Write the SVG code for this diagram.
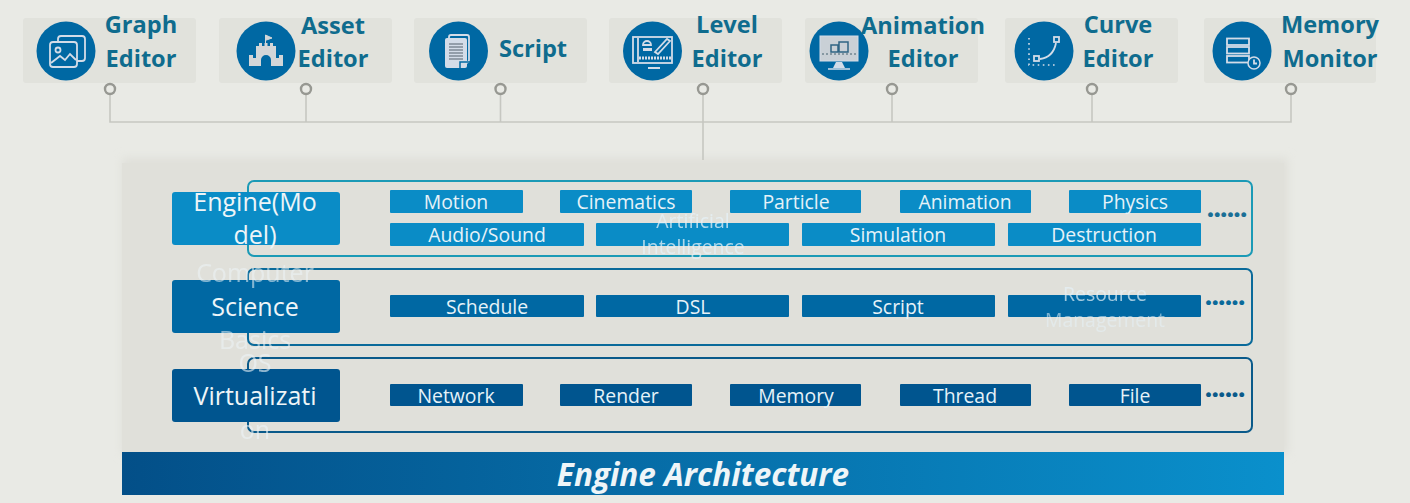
<svg xmlns="http://www.w3.org/2000/svg" width="1410" height="503" viewBox="0 0 1410 503">
<style>
text{font-family:"Open Sans","Liberation Sans",sans-serif}
.card{fill:#e1e2dc}
.ci{fill:#0068a3}
.t{font-size:23.6px;font-weight:700;fill:#0f6c8e;text-anchor:middle}
.port{fill:#e9eae5;stroke:#979892;stroke-width:2.4}
.wire{fill:none;stroke:#c6c7c1;stroke-width:1.6}
.ic{fill:none;stroke:#d3dce8;stroke-width:1.8}
.if{fill:#d3d6d8}
.p,.l{text-anchor:middle}
.p{font-size:19.4px;fill:#e6f2f8}
.l{font-size:25px;fill:#eef5f8}
.frame{fill:none;stroke-width:2}
.d{font-size:24px;font-weight:800;letter-spacing:-.3px}
.a{fill:#0a8cc6}.b{fill:#0068a3}.c{fill:#00558f}
</style>
<defs>
<linearGradient id="bar" x1="0" x2="1" y1="0" y2="0"><stop offset="0" stop-color="#034f88"/><stop offset="1" stop-color="#0a90cc"/></linearGradient>
<filter id="soft" x="-5%" y="-10%" width="110%" height="120%"><feGaussianBlur stdDeviation="5"/></filter>
</defs>
<rect width="1410" height="503" fill="#e9eae5"/>
<g id="panel"><rect x="122" y="158" width="1166" height="296" fill="#dfdfd9" filter="url(#soft)"/><rect x="122" y="163" width="1162" height="289" fill="#e0e0da"/><rect x="122" y="452" width="1162" height="43" fill="url(#bar)"/>
<text x="703" y="486" text-anchor="middle" font-size="31.500" font-weight="700" font-style="italic" fill="#eef5f8">Engine Architecture</text></g>
<g id="connectors">
<path class="wire" d="M110 94V122H1291V94M306 94V122M500.500 94V122M703 94V160M892 94V122M1092 94V122"/>
</g>
<g id="graph-editor"><rect class="card" x="23" y="18" width="173" height="65" rx="3"/><circle class="ci" cx="66" cy="51" r="29.500"/>
<rect class="ic" x="58" y="36" width="27" height="25" rx="3"/><rect x="50" y="42" width="27" height="25" rx="3" fill="#0068a3" stroke="#d3dce8" stroke-width="1.800"/><circle class="ic" cx="58" cy="50" r="2.500"/><path class="ic" d="M51 63L60 56 65 60 70 54 76 60"/>
<text class="t" x="141" y="33">Graph</text><text class="t" x="141" y="67">Editor</text><circle class="port" cx="110" cy="89" r="5"/></g>
<g id="asset-editor"><rect class="card" x="219" y="18" width="173" height="65" rx="3"/><circle class="ci" cx="266" cy="51" r="29.500"/>
<path class="if" d="M249 66V55H253V58H256V46H259V43H262V46H264.500V43H267.500V46H270V43H273V46H276V58H279V55H283V66H271V60A5 5 0 0 0 261 60V66Z"/><path d="M265.500 43V35L272 38 266.500 40" fill="#d3d6d8" stroke="#d3d6d8"/>
<text class="t" x="333" y="34">Asset</text><text class="t" x="333" y="67">Editor</text><circle class="port" cx="306" cy="89" r="5"/></g>
<g id="script"><rect class="card" x="414" y="18" width="173" height="65" rx="3"/><circle class="ci" cx="458.500" cy="51" r="29.500"/>
<rect class="ic" x="449" y="35" width="20" height="27" rx="2"/><rect x="445" y="38" width="22" height="30" rx="2" fill="#d3dce8"/><path d="M449 44H463M449 47H463M449 50H463M449 53H463M449 56H463M449 59H463" stroke="#55606c" stroke-width="1.200"/><path d="M460 68V62H470" fill="#d3dce8" stroke="#0068a3" stroke-width="1.500"/>
<text class="t" x="533" y="57">Script</text><circle class="port" cx="500.500" cy="89" r="5"/></g>
<g id="level-editor"><rect class="card" x="609" y="18" width="173" height="65" rx="3"/><circle class="ci" cx="652.500" cy="51" r="29.500"/>
<rect class="ic" x="633" y="37" width="39" height="26"/><path class="ic" d="M638 38V62M648 68H660"/><path d="M639 58H671" stroke="#d3dce8" stroke-width="3" stroke-dasharray="2 1"/><rect x="643" y="48" width="9" height="3" fill="#d3dce8"/><path class="ic" d="M643 45A4 4 0 0 1 651 45ZM655 52L667 39 670 41 658 54Z"/>
<text class="t" x="727" y="33">Level</text><text class="t" x="727" y="67">Editor</text><circle class="port" cx="703" cy="89" r="5"/></g>
<g id="animation-editor"><rect class="card" x="805" y="18" width="173" height="65" rx="3"/><circle class="ci" cx="839" cy="51" r="29.500"/>
<rect x="820" y="36" width="38" height="25" fill="#c9d0d6" stroke="#d3dce8"/><path d="M822 54H856" stroke="#44606f" stroke-dasharray="2 2"/><path d="M831 45H838V52H831ZM839 42H848V52H839Z" fill="none" stroke="#2f6484" stroke-width="1.500"/><path d="M836 62H842L845 68H833Z" fill="#d3dce8"/><path d="M828 69H850" stroke="#d3dce8" stroke-width="1.500"/>
<text class="t" x="923" y="34">Animation</text><text class="t" x="923" y="67">Editor</text><circle class="port" cx="892" cy="89" r="5"/></g>
<g id="curve-editor"><rect class="card" x="1005" y="18" width="173" height="65" rx="3"/><circle class="ci" cx="1044" cy="51" r="29.500"/>
<path d="M1029 38V65H1058" fill="none" stroke="#d3dce8" stroke-width="1.600" stroke-dasharray="1.600 3.500"/><path class="ic" d="M1040 59C1048 58 1054 53 1056 43"/><rect class="ic" x="1034" y="56" width="5" height="5"/><rect class="ic" x="1054" y="37" width="5" height="5"/>
<text class="t" x="1118" y="33">Curve</text><text class="t" x="1118" y="67">Editor</text><circle class="port" cx="1092" cy="89" r="5"/></g>
<g id="memory-monitor"><rect class="card" x="1204" y="18" width="172" height="65" rx="3"/><circle class="ci" cx="1242" cy="51" r="29.500"/>
<rect class="ic" x="1227" y="38.500" width="22" height="6.500"/><rect class="ic" x="1227" y="47" width="22" height="6.500"/><rect class="ic" x="1227" y="56" width="22" height="6.500"/><circle cx="1254" cy="63" r="6" fill="#0068a3" stroke="#d3dce8" stroke-width="1.500"/><path class="ic" d="M1254 59.500V63.500H1257" stroke-width="1.200"/>
<text class="t" x="1330" y="33">Memory</text><text class="t" x="1330" y="67">Monitor</text><circle class="port" cx="1291" cy="89" r="5"/></g>
<g id="engine-model">
<rect class="frame" x="248" y="181" width="1004" height="75" rx="6" stroke="#1b9ab6"/>
<rect class="a" x="172" y="192" width="168" height="53" rx="3"/>
<text class="l" x="255" y="211">Engine(Mo</text><text class="l" x="255" y="244">del)</text>
<g class="a"><rect x="390" y="190" width="133" height="23" rx="1"/><rect x="560" y="190" width="132" height="23" rx="1"/><rect x="730" y="190" width="131" height="23" rx="1"/><rect x="900" y="190" width="131" height="23" rx="1"/><rect x="1069" y="190" width="132" height="23" rx="1"/><rect x="390" y="223" width="194" height="23" rx="1"/><rect x="596" y="223" width="193" height="23" rx="1"/><rect x="802" y="223" width="193" height="23" rx="1"/><rect x="1008" y="223" width="193" height="23" rx="1"/></g>
<text class="p" x="456" y="209">Motion</text><text class="p" x="626" y="209">Cinematics</text><text class="p" x="796" y="209">Particle</text><text class="p" x="965" y="209">Animation</text><text class="p" x="1135" y="209">Physics</text>
<text class="p" x="487" y="242">Audio/Sound</text><text class="p" x="693" y="228" style="opacity:.75">Artificial</text><text class="p" x="693" y="254" style="opacity:.75">Intelligence</text><text class="p" x="898" y="242">Simulation</text><text class="p" x="1104" y="242">Destruction</text>
<text class="d" x="1207" y="217" fill="#1a6f96">......</text>
</g>
<g id="computer-science">
<rect class="frame" x="248" y="269" width="1004" height="76" rx="6" stroke="#0a6a9a"/>
<rect class="b" x="172" y="280" width="168" height="53" rx="3"/>
<text class="l" x="255" y="282" style="opacity:.55">Computer</text><text class="l" x="255" y="316">Science</text><text class="l" x="255" y="349" style="opacity:.55">Basics</text>
<g class="b"><rect x="390" y="295" width="194" height="22" rx="1"/><rect x="596" y="295" width="193" height="22" rx="1"/><rect x="802" y="295" width="193" height="22" rx="1"/><rect x="1008" y="295" width="193" height="22" rx="1"/></g>
<text class="p" x="487" y="314">Schedule</text><text class="p" x="693" y="314">DSL</text><text class="p" x="898" y="314">Script</text><text class="p" x="1105" y="301" style="opacity:.7">Resource</text><text class="p" x="1105" y="327" style="opacity:.55">Management</text>
<text class="d" x="1205" y="305" fill="#0a6a9a">......</text>
</g>
<g id="os-virtualization">
<rect class="frame" x="248" y="358" width="1004" height="74" rx="6" stroke="#0a5a8a"/>
<rect class="c" x="172" y="369" width="168" height="53" rx="3"/>
<text class="l" x="255" y="372" style="opacity:.6">OS</text><text class="l" x="255" y="405">Virtualizati</text><text class="l" x="255" y="439" style="opacity:.6">on</text>
<g class="c"><rect x="390" y="384" width="133" height="22" rx="1"/><rect x="560" y="384" width="132" height="22" rx="1"/><rect x="730" y="384" width="131" height="22" rx="1"/><rect x="900" y="384" width="131" height="22" rx="1"/><rect x="1069" y="384" width="132" height="22" rx="1"/></g>
<text class="p" x="456" y="403">Network</text><text class="p" x="626" y="403">Render</text><text class="p" x="796" y="403">Memory</text><text class="p" x="965" y="403">Thread</text><text class="p" x="1135" y="403">File</text>
<text class="d" x="1205" y="397" fill="#0a5a8a">......</text>
</g>
</svg>
